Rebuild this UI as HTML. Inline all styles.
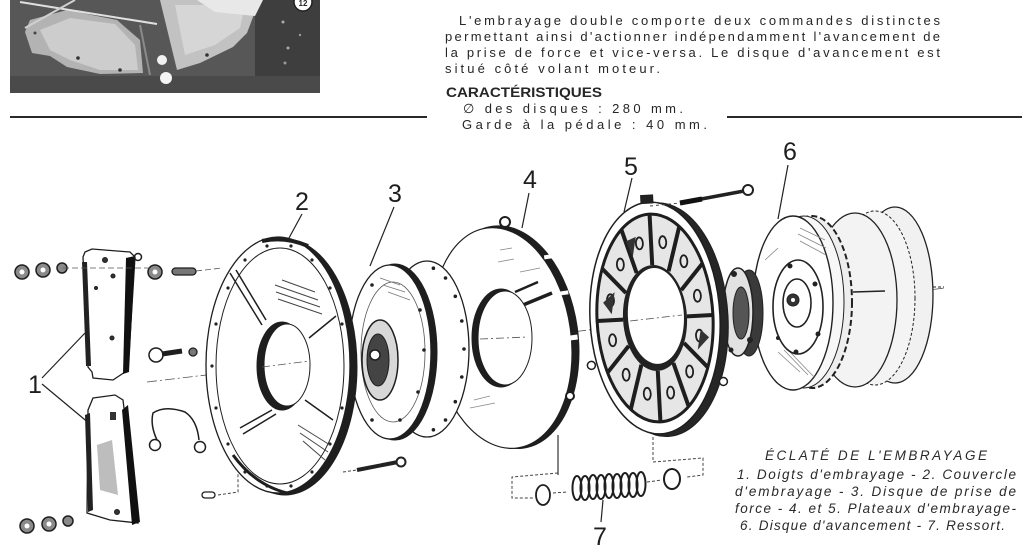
<!DOCTYPE html>
<html><head><meta charset="utf-8"><title>Éclaté de l'embrayage</title>
<style>
html,body{margin:0;padding:0;background:#fff;width:1024px;height:553px;overflow:hidden}
svg{display:block}
text{font-family:"Liberation Sans","DejaVu Sans",sans-serif;fill:#262626}
.n{font-size:25px;fill:#1e1e1e}
.p{font-size:13px}
.c{font-size:13.5px;font-style:italic;fill:#2a2a2a}
</style></head><body>
<svg width="1024" height="553" viewBox="0 0 1024 553" xmlns="http://www.w3.org/2000/svg">
<rect width="1024" height="553" fill="#fff"/>

<!-- ===== Photo top-left ===== -->
<g>
<rect x="10" y="0" width="310" height="93" fill="#575757"/>
<rect x="255" y="0" width="65" height="93" fill="#3e3e3e"/>
<rect x="10" y="76" width="310" height="17" fill="#4a4a4a"/>
<polygon points="25,32 32,53 50,56 67,67 100,74 143,73 140,40 117,20 67,10 30,20" fill="#b3b3b3"/>
<polygon points="40,30 70,18 115,24 135,45 138,70 100,70 70,60 50,50" fill="#cdcdcd"/>
<polygon points="160,0 177,70 200,63 233,47 247,33 253,17 257,0" fill="#c2c2c2"/>
<polygon points="175,5 185,55 215,45 240,28 245,5" fill="#d6d6d6"/>
<polygon points="197,0 263,0 255,16 215,12" fill="#e8e8e8"/>
<line x1="20" y1="2" x2="157" y2="24" stroke="#e0e0e0" stroke-width="2"/>
<line x1="25" y1="28" x2="75" y2="0" stroke="#d0d0d0" stroke-width="2"/>
<line x1="140" y1="25" x2="150" y2="75" stroke="#8a8a8a" stroke-width="2"/>
<circle cx="78" cy="58" r="1.8" fill="#333"/><circle cx="120" cy="70" r="1.8" fill="#333"/><circle cx="207" cy="55" r="1.8" fill="#333"/><circle cx="35" cy="33" r="1.5" fill="#444"/>
<circle cx="162" cy="60" r="5" fill="#f2f2f2"/>
<circle cx="166" cy="78" r="6" fill="#f5f5f5"/>
<circle cx="283" cy="22" r="1.5" fill="#aaa"/><circle cx="288" cy="48" r="1.5" fill="#aaa"/><circle cx="285" cy="63" r="1.5" fill="#999"/><circle cx="300" cy="35" r="1.2" fill="#999"/>
<circle cx="303" cy="2" r="9" fill="#fff" stroke="#222" stroke-width="1.5"/>
<text x="303" y="6" font-size="8" text-anchor="middle" font-weight="bold" fill="#222">12</text>
</g>

<!-- ===== Top text ===== -->
<text class="p" x="459" y="25" textLength="481" lengthAdjust="spacing">L'embrayage double comporte deux commandes distinctes</text>
<text class="p" x="445" y="41" textLength="495" lengthAdjust="spacing">permettant ainsi d'actionner indépendamment l'avancement de</text>
<text class="p" x="445" y="57" textLength="495" lengthAdjust="spacing">la prise de force et vice-versa. Le disque d'avancement est</text>
<text class="p" x="445" y="73" textLength="215" lengthAdjust="spacing">situé côté volant moteur.</text>
<text x="446" y="97" font-size="13.5" font-weight="bold" textLength="156" lengthAdjust="spacingAndGlyphs">CARACTÉRISTIQUES</text>
<text class="p" x="463" y="113" textLength="220" lengthAdjust="spacing">∅ des disques : 280 mm.</text>
<text class="p" x="462" y="129" textLength="245" lengthAdjust="spacing">Garde à la pédale : 40 mm.</text>
<line x1="10" y1="117" x2="427" y2="117" stroke="#2a2a2a" stroke-width="2"/>
<line x1="727" y1="117" x2="1022" y2="117" stroke="#2a2a2a" stroke-width="2"/>

<!-- axis background -->
<line x1="147" y1="382" x2="945" y2="288" stroke="#555" stroke-width="0.8" stroke-dasharray="10 3 2 3"/>

<!-- ===== Part 6 ===== -->
<g stroke="#222">
<ellipse cx="895" cy="295" rx="38" ry="88" fill="#f1f1f1" stroke-width="1.3"/>
<ellipse cx="875" cy="298" rx="40" ry="87" fill="#f4f4f4" stroke-width="1" stroke-dasharray="3 2"/>
<ellipse cx="855" cy="300" rx="42" ry="87" fill="#f3f3f3" stroke-width="1.3"/>
<line x1="853" y1="292" x2="885" y2="291" stroke-width="1.5"/>
<ellipse cx="812" cy="302" rx="40" ry="86" fill="#eee" stroke-width="2" stroke-dasharray="6 3"/>
<ellipse cx="804" cy="302" rx="40" ry="86" fill="#f7f7f7" stroke-width="1"/>
<ellipse cx="793" cy="303" rx="40" ry="87" fill="#fff" stroke-width="1.4"/>
<g stroke="#888" stroke-width="0.8">
<line x1="800" y1="228" x2="825" y2="240"/><line x1="798" y1="234" x2="826" y2="248"/><line x1="800" y1="241" x2="826" y2="255"/>
<line x1="778" y1="352" x2="800" y2="372"/><line x1="784" y1="350" x2="808" y2="375"/><line x1="790" y1="352" x2="815" y2="378"/>
<line x1="765" y1="260" x2="778" y2="248"/>
</g>
<ellipse cx="798" cy="307" rx="25" ry="47" fill="#fff" stroke-width="1.6"/>
<ellipse cx="797" cy="303" rx="14" ry="24" fill="#fff" stroke-width="1.6"/>
<circle cx="793" cy="300" r="6" fill="#333"/>
<circle cx="793" cy="300" r="2" fill="#fff" stroke="none"/>
<g fill="#222" stroke="none">
<circle cx="790" cy="266" r="2.5"/><circle cx="815" cy="284" r="2.5"/><circle cx="818" cy="334" r="2.5"/><circle cx="796" cy="352" r="2.5"/><circle cx="778" cy="338" r="2"/>
</g>
<line x1="933" y1="287" x2="944" y2="287" stroke-width="1" stroke-dasharray="3 2"/>
</g>

<!-- ===== Hub between 5 and 6 ===== -->
<g stroke="#222">
<ellipse cx="749" cy="313" rx="14" ry="43" fill="#3a3a3a"/>
<ellipse cx="738" cy="312" rx="15" ry="44" fill="#e2e2e2" stroke-width="1.5"/>
<ellipse cx="741" cy="313" rx="8" ry="26" fill="#555"/>
<circle cx="734" cy="274" r="2.5" fill="#222"/><circle cx="750" cy="340" r="2.5" fill="#222"/><circle cx="731" cy="350" r="2" fill="#222"/>
</g>

<!-- ===== Part 5 ===== -->
<g transform="rotate(-3 655 318)" stroke="#1e1e1e">
<ellipse cx="662" cy="320" rx="66" ry="117" fill="#262626"/>
<ellipse cx="655" cy="318" rx="65" ry="116" fill="#fff" stroke-width="1.5"/>
<ellipse cx="655" cy="318" rx="58" ry="104" fill="#e6e6e6" stroke-width="3"/>
<g stroke-width="4">
<line x1="687" y1="318" x2="713" y2="318"/>
<line x1="682.7" y1="344.5" x2="705.2" y2="370"/>
<line x1="671" y1="363.9" x2="684" y2="408.1"/>
<line x1="655" y1="371" x2="655" y2="422"/>
<line x1="639" y1="363.9" x2="626" y2="408.1"/>
<line x1="627.3" y1="344.5" x2="604.8" y2="370"/>
<line x1="623" y1="318" x2="597" y2="318"/>
<line x1="627.3" y1="291.5" x2="604.8" y2="266"/>
<line x1="639" y1="272.1" x2="626" y2="227.9"/>
<line x1="655" y1="265" x2="655" y2="214"/>
<line x1="671" y1="272.1" x2="684" y2="227.9"/>
<line x1="682.7" y1="291.5" x2="705.2" y2="266"/>
</g>
<g fill="none" stroke-width="1.8">
<ellipse cx="698.5" cy="338" rx="3.5" ry="6"/><ellipse cx="686.8" cy="373.2" rx="3.5" ry="6"/><ellipse cx="666.7" cy="393.3" rx="3.5" ry="6"/><ellipse cx="643.3" cy="393.3" rx="3.5" ry="6"/><ellipse cx="623.2" cy="373.2" rx="3.5" ry="6"/><ellipse cx="611.5" cy="338" rx="3.5" ry="6"/><ellipse cx="611.5" cy="298" rx="3.5" ry="6"/><ellipse cx="623.2" cy="262.8" rx="3.5" ry="6"/><ellipse cx="643.3" cy="242.7" rx="3.5" ry="6"/><ellipse cx="666.7" cy="242.7" rx="3.5" ry="6"/><ellipse cx="686.8" cy="262.8" rx="3.5" ry="6"/><ellipse cx="698.5" cy="298" rx="3.5" ry="6"/>
</g>
<polygon points="604,300 616,290 612,312" fill="#333" stroke="none"/>
<polygon points="630,240 640,236 636,256" fill="#333" stroke="none"/>
<polygon points="700,332 708,340 696,352" fill="#333" stroke="none"/>
<ellipse cx="655" cy="318" rx="32" ry="53" fill="#222" stroke="none"/>
<ellipse cx="656" cy="316" rx="28" ry="48" fill="#fff" stroke="none"/>
<rect x="647" y="195" width="12" height="8" fill="#222"/>
<circle cx="589" cy="362" r="4" fill="#fff" stroke-width="1.5"/>
<circle cx="720" cy="385" r="4" fill="#fff" stroke-width="1.5"/>
</g>
<line x1="630" y1="321" x2="682" y2="315" stroke="#555" stroke-width="0.8" stroke-dasharray="8 3 2 3"/>

<!-- bolt above 5 -->
<line x1="650" y1="206" x2="680" y2="203" stroke="#444" stroke-width="1" stroke-dasharray="3 3"/>
<line x1="680" y1="203" x2="744" y2="191" stroke="#222" stroke-width="3.5"/>
<line x1="680" y1="203" x2="702" y2="199" stroke="#111" stroke-width="5"/>
<circle cx="748" cy="190" r="5" fill="#fff" stroke="#222" stroke-width="2"/>

<!-- ===== Part 4 ===== -->
<g transform="rotate(-8 502 338)" stroke="#1e1e1e">
<ellipse cx="508" cy="338" rx="70" ry="112" fill="#1e1e1e"/>
<ellipse cx="502" cy="338" rx="69" ry="111" fill="#fff" stroke-width="1.2"/>
<rect x="566" y="300" width="8" height="4" fill="#fff" stroke="none"/>
<rect x="569" y="345" width="8" height="5" fill="#fff" stroke="none"/>
<rect x="555" y="262" width="8" height="4" fill="#fff" stroke="none"/>
</g>
<g stroke="#1e1e1e">
<line x1="523" y1="305" x2="552" y2="293" stroke-width="3.5"/>
<line x1="515" y1="292" x2="538" y2="282" stroke-width="2.5"/>
<ellipse cx="501" cy="338" rx="29" ry="49" fill="#1e1e1e"/>
<ellipse cx="505" cy="338" rx="27" ry="47" fill="#fff"/>
<circle cx="505" cy="222" r="5" fill="#fff" stroke-width="2"/>
<circle cx="570" cy="396" r="4" fill="#fff" stroke-width="2"/>
<g stroke="#888" stroke-width="0.8"><line x1="500" y1="250" x2="512" y2="248"/><line x1="498" y1="262" x2="514" y2="259"/><line x1="520" y1="272" x2="540" y2="268"/><line x1="474" y1="400" x2="490" y2="396"/><line x1="470" y1="408" x2="495" y2="403"/></g>
</g>
<line x1="480" y1="339" x2="528" y2="337" stroke="#555" stroke-width="0.8" stroke-dasharray="8 3 2 3"/>
<line x1="558" y1="435" x2="558" y2="475" stroke="#333" stroke-width="1.2"/>

<!-- ===== Part 3 ===== -->
<g stroke="#1e1e1e">
<ellipse cx="427" cy="349" rx="42" ry="88" fill="#fff" stroke-width="1.3"/>
<g fill="#222" stroke="none">
<circle cx="464" cy="349" r="1.8"/><circle cx="461.8" cy="377" r="1.8"/><circle cx="455.3" cy="401.7" r="1.8"/><circle cx="445.5" cy="420" r="1.8"/><circle cx="461.8" cy="321" r="1.8"/><circle cx="455.3" cy="296.3" r="1.8"/><circle cx="445.5" cy="278" r="1.8"/><circle cx="433.4" cy="429.8" r="1.8"/><circle cx="433.4" cy="268.2" r="1.8"/>
</g>
<ellipse cx="395" cy="352" rx="42" ry="88" fill="#1e1e1e"/>
<ellipse cx="390" cy="352" rx="41" ry="87" fill="#fff" stroke-width="1.3"/>
<ellipse cx="393" cy="352" rx="32" ry="70" fill="none" stroke="#555" stroke-width="0.8"/>
<g stroke="#777" stroke-width="0.8"><line x1="380" y1="278" x2="400" y2="285"/><line x1="383" y1="285" x2="405" y2="292"/><line x1="388" y1="292" x2="410" y2="300"/></g>
<g fill="#222" stroke="none"><circle cx="420" cy="310" r="1.8"/><circle cx="424" cy="350" r="1.8"/><circle cx="418" cy="392" r="1.8"/><circle cx="400" cy="420" r="1.8"/><circle cx="372" cy="420" r="1.8"/><circle cx="372" cy="285" r="1.8"/></g>
<ellipse cx="380" cy="360" rx="18" ry="40" fill="#d8d8d8" stroke-width="1.5"/>
<ellipse cx="378" cy="360" rx="11" ry="26" fill="#444"/>
<circle cx="375" cy="355" r="5" fill="#fff" stroke-width="1.5"/>
</g>
<!-- bolt below 3 -->
<line x1="343" y1="472" x2="357" y2="470" stroke="#444" stroke-width="1" stroke-dasharray="3 2"/>
<line x1="357" y1="470" x2="398" y2="462" stroke="#222" stroke-width="4"/>
<circle cx="401" cy="462" r="4.5" fill="#fff" stroke="#222" stroke-width="2"/>

<!-- ===== Part 2 ===== -->
<g stroke="#1e1e1e">
<ellipse cx="285" cy="367" rx="72" ry="128" fill="#1e1e1e"/>
<ellipse cx="278" cy="365" rx="72" ry="128" fill="#fff" stroke-width="1.3"/>
<ellipse cx="280" cy="366" rx="64" ry="118" fill="none" stroke-width="1"/>
<path d="M262,241 Q285,236 308,246" fill="none" stroke-width="4"/>
<path d="M233,455 Q255,485 287,493" fill="none" stroke-width="3"/>
<g fill="#222" stroke="none">
<circle cx="342" cy="408" r="1.6"/><circle cx="330" cy="444" r="1.6"/><circle cx="312" cy="472" r="1.6"/><circle cx="291" cy="486" r="1.6"/><circle cx="267" cy="486" r="1.6"/><circle cx="245" cy="472" r="1.6"/><circle cx="228" cy="444" r="1.6"/><circle cx="216" cy="408" r="1.6"/><circle cx="212" cy="366" r="1.6"/><circle cx="216" cy="324" r="1.6"/><circle cx="228" cy="288" r="1.6"/><circle cx="245" cy="260" r="1.6"/><circle cx="267" cy="246" r="1.6"/><circle cx="291" cy="246" r="1.6"/><circle cx="312" cy="260" r="1.6"/><circle cx="330" cy="288" r="1.6"/><circle cx="342" cy="324" r="1.6"/>
</g>
<g stroke-width="1.5">
<line x1="230" y1="273" x2="262" y2="325"/><line x1="236" y1="270" x2="266" y2="320"/>
<line x1="240" y1="428" x2="272" y2="410"/><line x1="243" y1="434" x2="276" y2="414"/>
<line x1="309" y1="338" x2="336" y2="316"/>
<line x1="305" y1="400" x2="333" y2="420"/>
</g>
<g stroke="#444" stroke-width="1">
<line x1="275" y1="285" x2="318" y2="300"/><line x1="276" y1="292" x2="320" y2="307"/><line x1="278" y1="299" x2="322" y2="314"/><line x1="282" y1="280" x2="315" y2="292"/>
<line x1="298" y1="425" x2="330" y2="445"/><line x1="300" y1="433" x2="328" y2="452"/><line x1="303" y1="441" x2="325" y2="460"/>
</g>
<ellipse cx="282" cy="366" rx="25" ry="44" fill="#1e1e1e"/>
<ellipse cx="287" cy="365" rx="23" ry="41" fill="#fff"/>
</g>
<line x1="262" y1="367" x2="310" y2="361" stroke="#555" stroke-width="0.8" stroke-dasharray="8 3 2 3"/>

<!-- ===== Part 1 and small parts ===== -->
<g stroke="#1e1e1e">
<polygon points="85,252 92,249 130,252 135,257 128,370 113,380 93,378 92,372 88,367 83,257" fill="#fff" stroke-width="1.3"/>
<polygon points="126,258 135,256 129,372 123,374" fill="#111" stroke="none"/>
<polygon points="82,262 87,262 91,366 86,366" fill="#222" stroke="none"/>
<circle cx="105" cy="260" r="2.5" fill="#333"/><circle cx="113" cy="276" r="2" fill="#333"/><circle cx="96" cy="288" r="1.5" fill="#333"/><circle cx="112" cy="338" r="2" fill="#333"/>
<circle cx="138" cy="257" r="3.5" fill="none" stroke-width="1.5"/>
<polygon points="93,398 115,395 123,400 138,523 110,520 87,513 88,410" fill="#fff" stroke-width="1.3"/>
<polygon points="122,410 128,405 140,522 132,525" fill="#111" stroke="none"/>
<polygon points="85,415 90,413 93,510 88,512" fill="#222" stroke="none"/>
<polygon points="97,445 112,440 118,495 100,490" fill="#bdbdbd" stroke="none"/>
<rect x="110" y="412" width="6" height="8" fill="#333" stroke="none"/>
<circle cx="117" cy="512" r="2.5" fill="#333"/>
<!-- nuts -->
<g fill="#8a8a8a" stroke-width="1.5">
<circle cx="22" cy="272" r="7"/><circle cx="43" cy="270" r="7"/><circle cx="62" cy="268" r="5"/>
<circle cx="27" cy="526" r="7"/><circle cx="49" cy="524" r="7"/><circle cx="68" cy="521" r="5"/>
<circle cx="155" cy="272" r="7"/>
</g>
<g fill="#fff" stroke="none"><circle cx="22" cy="272" r="2.5"/><circle cx="43" cy="270" r="2.5"/><circle cx="27" cy="526" r="2.5"/><circle cx="49" cy="524" r="2.5"/><circle cx="155" cy="272" r="2.5"/></g>
<rect x="172" y="268" width="24" height="7" rx="3.5" fill="#777" stroke-width="1.3"/>
<circle cx="156" cy="355" r="7" fill="#fff" stroke-width="1.5"/>
<line x1="162" y1="354" x2="182" y2="351" stroke-width="5"/>
<circle cx="193" cy="352" r="4" fill="#777" stroke-width="1.3"/>
<!-- wire clip -->
<path d="M157,440 Q150,425 153,413 Q165,405 185,412 Q197,420 199,440" fill="none" stroke-width="1.5"/>
<circle cx="155" cy="445" r="5.5" fill="none" stroke-width="1.5"/>
<circle cx="200" cy="447" r="5.5" fill="none" stroke-width="1.5"/>
<!-- pin & dashes -->
<rect x="202" y="492" width="13" height="6" rx="3" fill="#fff" stroke-width="1.3"/>
<path d="M218,495 L238,492 L238,473" fill="none" stroke="#444" stroke-width="1" stroke-dasharray="3 2"/>
<line x1="150" y1="268" x2="60" y2="268" stroke="#555" stroke-width="0.8" stroke-dasharray="6 3"/>
<line x1="196" y1="271" x2="222" y2="268" stroke="#555" stroke-width="0.8" stroke-dasharray="6 3"/>
</g>

<!-- ===== Spring and washers ===== -->
<g stroke="#1e1e1e" fill="none">
<path d="M558,473 L512,477 L512,498 L533,498" stroke="#444" stroke-width="1" stroke-dasharray="3 2"/>
<ellipse cx="543" cy="495" rx="7" ry="10" fill="#fff" stroke-width="1.8"/>
<line x1="553" y1="493" x2="568" y2="492" stroke="#444" stroke-width="1" stroke-dasharray="3 2"/>
<g stroke-width="2">
<ellipse cx="577" cy="488" rx="4.5" ry="12"/><ellipse cx="585" cy="488" rx="4.5" ry="12"/><ellipse cx="593" cy="487" rx="4.5" ry="12"/><ellipse cx="601" cy="487" rx="4.5" ry="12"/><ellipse cx="609" cy="486" rx="4.5" ry="12"/><ellipse cx="617" cy="486" rx="4.5" ry="12"/><ellipse cx="625" cy="485" rx="4.5" ry="12"/><ellipse cx="633" cy="485" rx="4.5" ry="12"/><ellipse cx="641" cy="484" rx="4.5" ry="12"/>
</g>
<line x1="647" y1="482" x2="662" y2="480" stroke="#444" stroke-width="1" stroke-dasharray="3 2"/>
<ellipse cx="672" cy="479" rx="8" ry="10" fill="#fff" stroke-width="2"/>
<path d="M653,437 L653,462 L703,458 L703,475 L687,477" stroke="#444" stroke-width="1" stroke-dasharray="3 2"/>
</g>

<!-- ===== Leaders ===== -->
<g stroke="#222" stroke-width="1.2">
<line x1="42" y1="378" x2="85" y2="333"/>
<line x1="42" y1="384" x2="90" y2="424"/>
<line x1="302" y1="214" x2="289" y2="238"/>
<line x1="394" y1="207" x2="370" y2="266"/>
<line x1="529" y1="193" x2="522" y2="228"/>
<line x1="632" y1="178" x2="624" y2="212"/>
<line x1="788" y1="165" x2="778" y2="219"/>
<line x1="603" y1="500" x2="601" y2="522"/>
</g>

<!-- ===== Labels ===== -->
<text class="n" x="35" y="393" text-anchor="middle">1</text>
<text class="n" x="302" y="210" text-anchor="middle">2</text>
<text class="n" x="395" y="202" text-anchor="middle">3</text>
<text class="n" x="530" y="188" text-anchor="middle">4</text>
<text class="n" x="631" y="175" text-anchor="middle">5</text>
<text class="n" x="790" y="160" text-anchor="middle">6</text>
<text class="n" x="600" y="545" text-anchor="middle">7</text>

<!-- ===== Caption ===== -->
<text class="c" x="765" y="460" textLength="222" lengthAdjust="spacing">ÉCLATÉ DE L'EMBRAYAGE</text>
<text class="c" x="737" y="479" textLength="279" lengthAdjust="spacing">1. Doigts d'embrayage  - 2. Couvercle</text>
<text class="c" x="735" y="496" textLength="281" lengthAdjust="spacing">d'embrayage - 3. Disque de prise de</text>
<text class="c" x="735" y="513" textLength="281" lengthAdjust="spacing">force - 4. et 5. Plateaux d'embrayage-</text>
<text class="c" x="740" y="530" textLength="265" lengthAdjust="spacing">6. Disque d'avancement - 7. Ressort.</text>
</svg>
</body></html>
